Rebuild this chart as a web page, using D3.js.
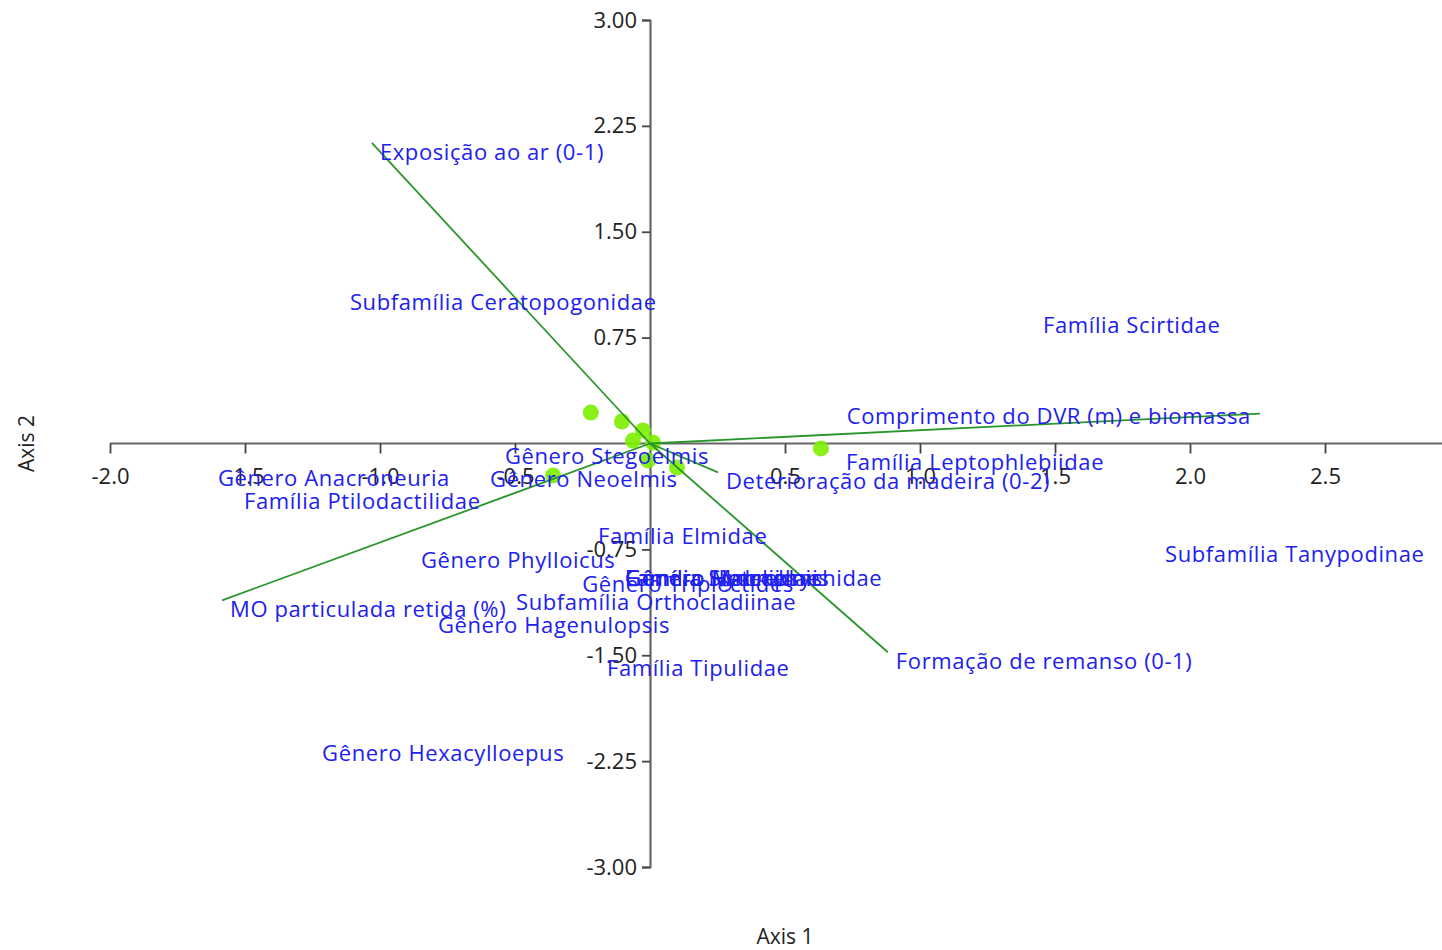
<!DOCTYPE html>
<html>
<head>
<meta charset="utf-8">
<script src="https://cdn.jsdelivr.net/npm/d3@7"></script>
<style>
  html, body { margin: 0; padding: 0; background: #fff; }
  svg { display: block; font-family: "Open Sans", "Noto Sans", sans-serif; }
</style>
</head>
<body>
<svg id="chart" width="1442" height="950"></svg>
<script>
// Ordination biplot: site scores (dots), taxa scores (labels), environmental vectors

// Axis ticks (zero is left unlabeled on both axes)
const xTicks = [-2.0, -1.5, -1.0, -0.5, 0.5, 1.0, 1.5, 2.0, 2.5];
const yTicks = [3.00, 2.25, 1.50, 0.75, -0.75, -1.50, -2.25, -3.00];

// Site scores
const siteX = [-0.219, -0.104, -0.026, -0.063, 0.011, -0.007, 0.100, -0.359, 0.633];
const siteY = [0.219, 0.156, 0.092, 0.021, 0.007, -0.120, -0.170, -0.226, -0.035];

// Taxa scores
const taxaNames = [
  "Subfamília Ceratopogonidae", "Família Scirtidae", "Gênero Stegoelmis",
  "Família Leptophlebiidae", "Gênero Anacroneuria", "Gênero Neoelmis",
  "Família Ptilodactilidae", "Família Elmidae", "Subfamília Tanypodinae",
  "Gênero Phylloicus", "Gênero Heterelmis", "Família Simuliidae",
  "Gênero Macrelmis", "Família Hydropsychidae", "Gênero Triplectides",
  "Subfamília Orthocladiinae", "Gênero Hagenulopsis", "Família Tipulidae",
  "Gênero Hexacylloepus"
];
const taxaX = [-1.141, 1.426, -0.567, 0.696, -1.630, -0.622, -1.533, -0.222, 1.878,
               -0.878, -0.122, -0.122, -0.122, -0.122, -0.281, -0.526, -0.815, -0.189, -1.244];
const taxaY = [1.062, 0.899, -0.028, -0.071, -0.184, -0.191, -0.347, -0.594, -0.722,
               -0.764, -0.892, -0.892, -0.892, -0.892, -0.934, -1.062, -1.224, -1.529, -2.130];

// Environmental vectors
const envNames = [
  "Exposição ao ar (0-1)", "Comprimento do DVR (m) e biomassa",
  "Deterioração da madeira (0-2)", "Formação de remanso (0-1)",
  "MO particulada retida (%)"
];
const envX = [-1.030, 2.259, 0.252, 0.881, -1.585];
const envY = [2.130, 0.212, -0.205, -1.479, -1.111];
// label anchor side: "start" places text after the arrow tip, "end" pulls it back before the tip
const envAnchor = ["start", "end", "start", "start", "start"];

const svg = d3.select("#chart");
const x = d3.scaleLinear().domain([-2, 3]).range([110, 1460]);
const y = d3.scaleLinear().domain([-3, 3]).range([867, 20]);

const axisColor = "#666";
const tickFont = 22;
const hyphen = f => v => f(v).replace("\u2212", "-");

// X axis through y = 0
const gx = svg.append("g")
  .attr("transform", `translate(0,${y(0)})`)
  .call(d3.axisBottom(x).tickValues(xTicks).tickSizeOuter(0).tickSize(10)
        .tickPadding(15).tickFormat(hyphen(d3.format(".1f"))));
// Y axis through x = 0
const gy = svg.append("g")
  .attr("transform", `translate(${x(0)},0)`)
  .call(d3.axisLeft(y).tickValues(yTicks).tickSizeOuter(0).tickSize(8)
        .tickPadding(5).tickFormat(hyphen(d3.format(".2f"))));

[gx, gy].forEach(g => {
  g.select(".domain").attr("stroke", axisColor).attr("stroke-width", 2.2);
  g.selectAll(".tick line").attr("stroke", "#444").attr("stroke-width", 1.8);
  g.selectAll(".tick text").attr("fill", "#222").attr("font-size", tickFont)
    .attr("font-family", "'Open Sans', sans-serif");
});
// horizontal axis line runs from the left limit to beyond the right edge
gx.select(".domain").attr("d", `M${x(-2)},0H${x(3)}`);

// Site dots
svg.append("g").selectAll("circle")
  .data(siteX.map((v, i) => [v, siteY[i]]))
  .join("circle")
  .attr("cx", d => x(d[0]))
  .attr("cy", d => y(d[1]))
  .attr("r", 8)
  .attr("fill", "#7cf000")
  .attr("fill-opacity", 0.9);

// Environmental vectors
svg.append("g").selectAll("line")
  .data(envX.map((v, i) => [v, envY[i]]))
  .join("line")
  .attr("x1", x(0)).attr("y1", y(0))
  .attr("x2", d => x(d[0])).attr("y2", d => y(d[1]))
  .attr("stroke", "#2a962a")
  .attr("stroke-width", 1.8);

const labelColor = "#2020f0";
const labelFont = 22;
const labelSpacing = "0.6px";

// Taxa labels
svg.append("g").selectAll("text")
  .data(taxaNames.map((n, i) => ({ n, x: taxaX[i], y: taxaY[i] })))
  .join("text")
  .attr("x", d => x(d.x) + 8)
  .attr("y", d => y(d.y) + 9)
  .attr("dy", "0.35em")
  .attr("fill", labelColor)
  .attr("font-size", labelFont)
  .attr("letter-spacing", labelSpacing)
  .text(d => d.n);

// Vector labels
svg.append("g").selectAll("text")
  .data(envNames.map((n, i) => ({ n, x: envX[i], y: envY[i], a: envAnchor[i] })))
  .join("text")
  .attr("x", d => d.a === "start" ? x(d.x) + 8 : x(d.x) - 9)
  .attr("y", d => d.a === "start" ? y(d.y) + 9 : y(d.y) + 3)
  .attr("dy", "0.35em")
  .attr("text-anchor", d => d.a)
  .attr("fill", labelColor)
  .attr("font-size", labelFont)
  .attr("letter-spacing", labelSpacing)
  .text(d => d.n);

// Axis titles
svg.append("text")
  .attr("x", 785).attr("y", 937).attr("dy", "0.35em")
  .attr("text-anchor", "middle").attr("fill", "#222").attr("font-size", 21)
  .text("Axis 1");
svg.append("text")
  .attr("transform", `translate(27,${y(0)}) rotate(-90)`)
  .attr("dy", "0.35em")
  .attr("text-anchor", "middle").attr("fill", "#222").attr("font-size", 21)
  .text("Axis 2");
</script>
</body>
</html>
